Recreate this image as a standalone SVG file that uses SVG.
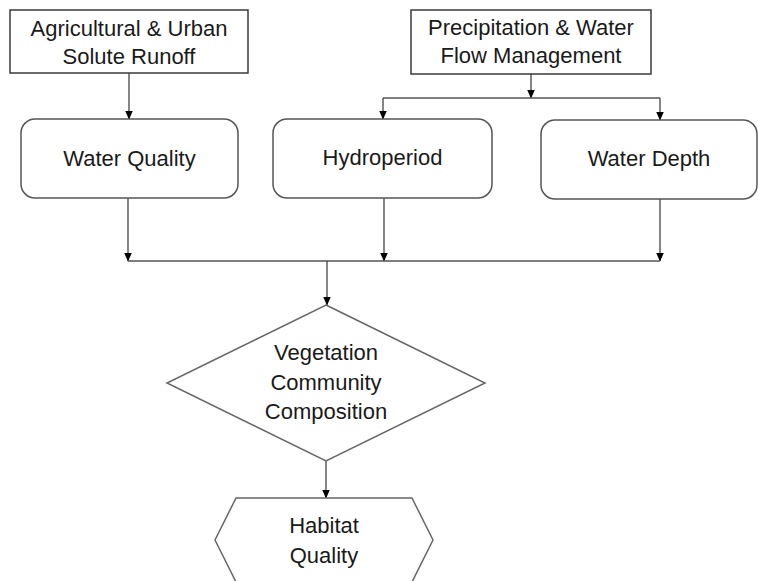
<svg xmlns="http://www.w3.org/2000/svg" width="758" height="581" viewBox="0 0 758 581">
<defs>
<marker id="arr" markerWidth="9" markerHeight="9" refX="8.5" refY="4.5" orient="auto" markerUnits="userSpaceOnUse">
<path d="M0,0.5 L9,4.5 L0,8.5 Z" fill="#000"/>
</marker>
<style>
.box{fill:#fff;stroke:#3a3a3a;stroke-width:1.5}
.rbox{fill:#fff;stroke:#555;stroke-width:1.5}
.shape{fill:#fff;stroke:#666;stroke-width:1.5}
.t{font-family:"Liberation Sans",Arial,sans-serif;font-size:22px;fill:#1a1a1a;text-anchor:middle}
.c{fill:none;stroke:#555;stroke-width:1.5}
.ca{fill:none;stroke:#444;stroke-width:1.3;marker-end:url(#arr)}
</style>
</defs>
<rect width="758" height="581" fill="#fff"/>
<g id="connectors">
<line class="ca" x1="129" y1="73" x2="129" y2="119"/>
<line class="ca" x1="531" y1="74" x2="531" y2="98"/>
<line class="c" x1="383" y1="98" x2="660" y2="98"/>
<line class="ca" x1="383" y1="98" x2="383" y2="119"/>
<line class="ca" x1="660" y1="98" x2="660" y2="120"/>
<line class="ca" x1="128" y1="198" x2="128" y2="261"/>
<line class="ca" x1="384" y1="198" x2="384" y2="261"/>
<line class="ca" x1="660" y1="199" x2="660" y2="261"/>
<line class="c" x1="128" y1="261" x2="660" y2="261"/>
<line class="ca" x1="327" y1="261" x2="327" y2="305"/>
<line class="ca" x1="326" y1="461" x2="326" y2="498"/>
</g>
<g id="runoff">
<rect class="box" x="10" y="10" width="238" height="63"/>
<text class="t" x="129" y="36">Agricultural &amp; Urban</text>
<text class="t" x="129" y="64">Solute Runoff</text>
</g>
<g id="precipitation">
<rect class="box" x="411" y="10" width="240" height="64"/>
<text class="t" x="531" y="35">Precipitation &amp; Water</text>
<text class="t" x="531" y="63">Flow Management</text>
</g>
<g id="water-quality">
<rect class="rbox" x="21" y="119" width="217" height="79" rx="14"/>
<text class="t" x="129.5" y="166">Water Quality</text>
</g>
<g id="hydroperiod">
<rect class="rbox" x="273" y="119" width="219" height="79" rx="14"/>
<text class="t" x="382.5" y="165">Hydroperiod</text>
</g>
<g id="water-depth">
<rect class="rbox" x="541" y="120" width="216" height="79" rx="14"/>
<text class="t" x="649" y="166">Water Depth</text>
</g>
<g id="vegetation">
<polygon class="shape" points="326,305 485,383 326,461 167,383"/>
<text class="t" x="326" y="360">Vegetation</text>
<text class="t" x="326" y="389.5">Community</text>
<text class="t" x="326" y="419">Composition</text>
</g>
<g id="habitat">
<polygon class="shape" points="236,498 412,498 433,540 412,582 236,582 215,540"/>
<text class="t" x="324" y="533">Habitat</text>
<text class="t" x="324" y="563">Quality</text>
</g>
</svg>
